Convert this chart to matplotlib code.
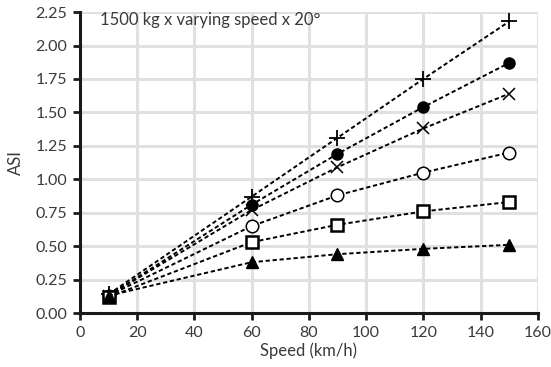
import matplotlib
matplotlib.use("Agg")
import matplotlib.pyplot as plt

speeds = [10, 60, 90, 120, 150]
series_plus = [0.14, 0.87, 1.31, 1.75, 2.18]
series_dot = [0.13, 0.81, 1.19, 1.54, 1.87]
series_cross = [0.13, 0.77, 1.09, 1.38, 1.64]
series_ring = [0.13, 0.65, 0.88, 1.05, 1.20]
series_square = [0.12, 0.53, 0.66, 0.76, 0.83]
series_triangle = [0.13, 0.38, 0.44, 0.48, 0.51]

x_ticks = [0, 20, 40, 60, 80, 100, 120, 140, 160]
y_ticks = [0.00, 0.25, 0.50, 0.75, 1.00, 1.25, 1.50, 1.75, 2.00, 2.25]

plt.rcParams['font.family'] = ['Lato', 'DejaVu Sans']
text_color = '#3a3a3a'

fig = plt.figure(figsize=(5.51, 3.67), dpi=100)
ax = fig.add_axes([0.145, 0.147, 0.831, 0.82])

dash = (0, (2.2, 1.4))
common = dict(color='black', linestyle=dash, linewidth=1.4, zorder=3)

ax.plot(speeds, series_plus, marker='+', markersize=11, markeredgewidth=1.3, **common)
ax.plot(speeds, series_dot, marker='o', markersize=8, markerfacecolor='black', **common)
ax.plot(speeds, series_cross, marker='x', markersize=8, markeredgewidth=1.1, **common)
ax.plot(speeds, series_ring, marker='o', markersize=9, markerfacecolor='white',
        markeredgewidth=1.1, **common)
ax.plot(speeds, series_square, marker='s', markersize=8.5, markerfacecolor='white',
        markeredgewidth=1.8, **common)
ax.plot(speeds, series_triangle, marker='^', markersize=8, markerfacecolor='black', **common)

ax.set_xlim(0, 160)
ax.set_ylim(0, 2.25)
ax.set_xticks(x_ticks)
ax.set_yticks(y_ticks)
ax.set_yticklabels([f"{v:.2f}" for v in y_ticks])

ax.grid(True, color='#e0e0e0', linewidth=2.2, zorder=0)
ax.set_axisbelow(True)
for side in ('top', 'right'):
    ax.spines[side].set_visible(False)
for side in ('left', 'bottom'):
    ax.spines[side].set_linewidth(2.2)
    ax.spines[side].set_color('#1a1a1a')
    ax.spines[side].set_zorder(4)

ax.tick_params(axis='both', direction='out', length=5, width=2, color='#1a1a1a',
               labelsize=11.5, labelcolor=text_color, pad=4)

ax.set_xlabel('Speed (km/h)', fontsize=12, color=text_color, labelpad=2)
ax.set_ylabel('ASI', fontsize=12, color=text_color, labelpad=8)

ax.text(7, 2.19, '1500 kg x varying speed x 20°', fontsize=12, color=text_color,
        ha='left', va='center')

fig.savefig('out.png', dpi=100)
